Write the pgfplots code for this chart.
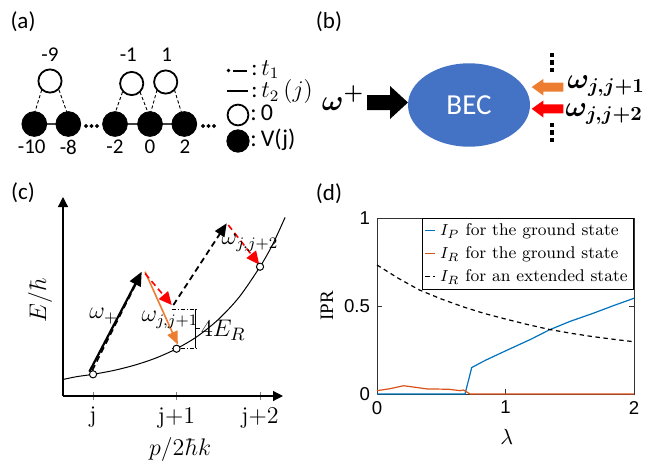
\documentclass[border=0pt]{standalone}
\usepackage{bm}
\usepackage{fontspec}
\usepackage{pgfplots}
\usepackage{pgfplotstable}
\pgfplotsset{compat=1.18}
\usetikzlibrary{arrows.meta}
\newfontfamily\calibri{Carlito}
\newfontfamily\arialf{Liberation Sans}
\newfontfamily\tnr{Liberation Serif}
\definecolor{becblue}{HTML}{4472C4}
\definecolor{offorange}{HTML}{ED7D31}
\definecolor{mblue}{HTML}{0072BD}
\definecolor{morange}{HTML}{D95319}

\pgfplotstableread{
lam v
0 0
0.685 0
0.737 0.15
0.8 0.175
0.848 0.193
1.0 0.245
1.2 0.312
1.34 0.364
1.5 0.412
1.68 0.458
1.84 0.502
2.0 0.544
}\ipdata
\pgfplotstableread{
lam v
0 0.019
0.1 0.03
0.207 0.047
0.3 0.038
0.388 0.029
0.556 0.027
0.647 0.019
0.673 0.023
0.724 0
2.0 0
}\irdata
\pgfplotstableread{
lam v
0 0.733
0.167 0.657
0.33 0.591
0.5 0.540
0.667 0.496
0.833 0.458
1.0 0.426
1.17 0.395
1.34 0.367
1.51 0.345
1.68 0.326
1.84 0.311
2.0 0.297
}\extdata

\begin{document}
\begin{tikzpicture}
\path[use as bounding box] (0,0) rectangle (328.5pt,231pt);

%================ overlay axis in pixel coordinates: panels (a), (b), labels
\begin{axis}[at={(0pt,0pt)}, anchor=south west, scale only axis,
  width=328.5pt, height=231pt, xmin=0, xmax=657, ymin=0, ymax=462,
  y dir=reverse, hide axis, clip=false]
% panel labels
\node[font=\calibri\fontsize{11.5}{13}\selectfont] at (23,22) {(a)};
\node[font=\calibri\fontsize{11.5}{13}\selectfont] at (329,22) {(b)};
\node[font=\calibri\fontsize{11.5}{13}\selectfont] at (23,193) {(c)};
\node[font=\calibri\fontsize{11.5}{13}\selectfont] at (329,194) {(d)};

% ---- panel (a)
\addplot[black!75, line width=0.6pt] coordinates {(34.3,124) (68.3,124)};
\addplot[black!75, line width=0.6pt] coordinates {(115,124) (184.3,124)};
\addplot[black, line width=0.45pt, dash pattern=on 1.6pt off 1.1pt] coordinates {(41.7,90) (35,111.7)};
\addplot[black, line width=0.45pt, dash pattern=on 1.6pt off 1.1pt] coordinates {(59,90) (66.7,111.7)};
\addplot[black, line width=0.45pt, dash pattern=on 1.6pt off 1.1pt] coordinates {(122.5,92) (115,113.3)};
\addplot[black, line width=0.45pt, dash pattern=on 1.6pt off 1.1pt] coordinates {(140,92) (148.3,113.3)};
\addplot[black, line width=0.45pt, dash pattern=on 1.6pt off 1.1pt] coordinates {(157,90) (150.5,113.3)};
\addplot[black, line width=0.45pt, dash pattern=on 1.6pt off 1.1pt] coordinates {(174.5,90) (181.7,113.3)};
\addplot[only marks, mark=*, mark size=6.2pt, mark options={fill=black, draw=black}]
  coordinates {(34.3,124) (68.3,124) (115,124) (150,124) (184.3,124)};
\addplot[only marks, mark=*, mark size=5.8pt, mark options={fill=white, draw=black, line width=0.9pt}]
  coordinates {(50,81) (131.7,83.5) (165.7,82)};
\addplot[only marks, mark=*, mark size=0.75pt, mark options={fill=black, draw=black}]
  coordinates {(86,126) (91.5,126) (97,126) (203,126) (208.5,126) (214,126)};
\node[font=\calibri\fontsize{10.5}{12}\selectfont] at (50,55) {-9};
\node[font=\calibri\fontsize{10.5}{12}\selectfont] at (128.3,55) {-1};
\node[font=\calibri\fontsize{10.5}{12}\selectfont] at (166.7,55) {1};
\node[font=\calibri\fontsize{10.5}{12}\selectfont] at (31.7,147) {-10};
\node[font=\calibri\fontsize{10.5}{12}\selectfont] at (68.3,147) {-8};
\node[font=\calibri\fontsize{10.5}{12}\selectfont] at (115,147) {-2};
\node[font=\calibri\fontsize{10.5}{12}\selectfont] at (150,147) {0};
\node[font=\calibri\fontsize{10.5}{12}\selectfont] at (185,147) {2};
% legend of (a)
\addplot[only marks, mark=*, mark size=0.7pt] coordinates {(228.5,70.5)};
\addplot[black, line width=1pt] coordinates {(233,70.5) (247,70.5)};
\addplot[black, line width=1pt] coordinates {(227,91) (248,91)};
\addplot[only marks, mark=*, mark size=5.2pt, mark options={fill=white, draw=black, line width=0.9pt}] coordinates {(238,115)};
\addplot[only marks, mark=*, mark size=5.6pt, mark options={fill=black, draw=black}] coordinates {(238,141)};
\node[anchor=base west, inner sep=0pt, font=\fontsize{11.5}{13}\selectfont] at (251,75) {{\calibri :}\,$t_1$};
\node[anchor=base west, inner sep=0pt, font=\fontsize{11.5}{13}\selectfont] at (251,97.5) {{\calibri :}\,$t_2\,(j)$};
\node[anchor=base west, inner sep=0pt, font=\calibri\fontsize{12}{14}\selectfont] at (250,120) {:\,0};
\node[anchor=base west, inner sep=0pt, font=\calibri\fontsize{12}{14}\selectfont] at (250,146) {:\,V(j)};

% ---- panel (b)
\fill[black] (367,95) -- (390,95) -- (390,86) -- (408,102.5) -- (390,119) -- (390,110) -- (367,110) -- cycle;
\fill[becblue] (469,105) ellipse [x radius=30.5pt, y radius=20.85pt];
\node[white, font=\calibri\fontsize{14.5}{16}\selectfont] at (469,105) {BEC};
\node[anchor=base, font=\fontsize{15}{17}\selectfont] at (343,110) {$\bm{\omega^{+}}$};
\fill[offorange] (531.7,87) -- (543.3,79) -- (543.3,82.7) -- (563.3,82.7) -- (563.3,91.7) -- (543.3,91.7) -- (543.3,95.5) -- cycle;
\fill[red] (531.7,108.8) -- (543.3,100.5) -- (543.3,104.3) -- (563.3,104.3) -- (563.3,113.3) -- (543.3,113.3) -- (543.3,117.5) -- cycle;
\addplot[only marks, mark=square*, mark size=0.9pt] coordinates {(551.7,55) (551.7,62.5) (551.7,70) (551.7,125) (551.7,132.5) (551.7,140)};
\node[anchor=base west, inner sep=0pt, font=\fontsize{14}{16}\selectfont] at (567,88.5) {$\bm{\omega_{j,j+1}}$};
\node[anchor=base west, inner sep=0pt, font=\fontsize{14}{16}\selectfont] at (565,116.5) {$\bm{\omega_{j,j+2}}$};
\end{axis}

%================ panel (c)
\begin{axis}[at={(31.5pt,33pt)}, anchor=south west, scale only axis,
  width=110pt, height=99.5pt, xmin=-0.36, xmax=2.275, ymin=0, ymax=199,
  axis lines=left, clip=false,
  axis line style={black, line width=0.6pt, -{Triangle[length=5pt,width=5pt]}},
  xtick={0,1,2}, xticklabels={j,j+1,j+2}, ytick=\empty,
  xtick align=center, major tick length=4pt,
  tick style={black!50, line width=0.4pt},
  xticklabel style={font=\fontsize{12}{13}\selectfont}]
\addplot[black, line width=0.5pt, smooth] coordinates {(-0.36,16.5) (-0.2,19.3) (0,21.7) (0.25,25.6) (0.5,30.9) (0.75,37.9) (1,47.3) (1.25,59.7) (1.5,76.5) (1.75,98.9) (2,129.3) (2.15,151.4) (2.3,178.6)};
\addplot[black, line width=0.8pt, dash pattern=on 3pt off 2pt] coordinates {(-0.01,25.5) (0.548,117.7)};
\addplot[black, line width=1.1pt, -{Triangle[length=7pt,width=6pt]}] coordinates {(-0.044,24.3) (0.583,124.3)};
\addplot[offorange, line width=0.8pt, -{Triangle[length=6.5pt,width=5.5pt]}] coordinates {(0.623,124.3) (1.015,51.5)};
\addplot[red, line width=0.8pt, dash pattern=on 3pt off 2pt, -{Triangle[length=6.5pt,width=6pt]}] coordinates {(0.623,122.5) (0.943,91)};
\addplot[black, line width=0.9pt, dash pattern=on 3pt off 2pt, -{Triangle[length=6.5pt,width=5.5pt]}] coordinates {(0.962,91) (1.601,172.7)};
\addplot[red, line width=0.8pt, dash pattern=on 3pt off 2pt, -{Triangle[length=6.5pt,width=6pt]}] coordinates {(1.62,171) (1.99,131.5)};
\addplot[only marks, mark=*, mark size=1.8pt, mark options={fill=white, draw=black, line width=0.5pt}] coordinates {(0,21.7) (1,47.3) (2,129.3)};
\addplot[black, line width=0.5pt, dash pattern=on 2pt off 1pt on 0.5pt off 1pt] coordinates {(0.94,87) (1.23,87)};
\addplot[black, line width=0.5pt, dash pattern=on 2pt off 1pt on 0.5pt off 1pt] coordinates {(0.94,47.7) (1.23,47.7)};
\addplot[black, line width=0.5pt] coordinates {(1.23,87) (1.23,47.7)};
\addplot[black, line width=0.5pt] coordinates {(1.23,67.5) (1.28,67.5)};
\node[anchor=west, inner sep=0pt, font=\fontsize{12.5}{14}\selectfont] at (axis cs:1.29,66) {$4E_R$};
\node[font=\fontsize{12}{14}\selectfont] at (axis cs:0.13,80) {$\omega_+$};
\node[font=\fontsize{12}{14}\selectfont] at (axis cs:0.922,76) {$\omega_{j,j+1}$};
\node[font=\fontsize{12}{14}\selectfont] at (axis cs:1.88,153) {$\omega_{j,j+2}$};
% axis labels of (c)
\node[rotate=90, font=\fontsize{12.5}{14}\selectfont] at (axis cs:-0.635,96) {$E/\hbar$};
\node[font=\fontsize{12.5}{14}\selectfont] at (axis cs:1.042,-53) {$p/2\hbar k$};
\end{axis}

%================ panel (d)
\begin{axis}[at={(188.5pt,34pt)}, anchor=south west, scale only axis,
  width=128.5pt, height=88pt, xmin=0, xmax=2, ymin=0, ymax=1,
  xtick={0,1,2}, ytick={0,0.5,1}, tick align=inside, major tick length=2.5pt,
  axis line style={black!80, line width=0.4pt}, tick style={black!80, line width=0.4pt},
  ticklabel style={font=\arialf\fontsize{9.3}{10}\selectfont},
  /pgf/number format/assume math mode=true, clip=false,
  legend style={at={(rel axis cs:1,1)}, anchor=north east, draw=black, line width=0.4pt, fill=white,
    font=\fontsize{8.5}{9.5}\selectfont, inner xsep=1pt, inner ysep=0.5pt, row sep=0pt, cells={anchor=west}},
  legend image code/.code={\draw[#1] (0pt,0pt) -- (5pt,0pt);}]
\addplot[mblue, line width=0.6pt] table[x=lam, y=v] {\ipdata};
\addlegendentry{$I_P$ for the ground state}
\addplot[morange, line width=0.6pt] table[x=lam, y=v] {\irdata};
\addlegendentry{$I_R$ for the ground state}
\addplot[black, line width=0.6pt, dash pattern=on 2.2pt off 1.8pt] table[x=lam, y=v] {\extdata};
\addlegendentry{$I_R$ for an extended state}
\node[rotate=90, font=\tnr\fontsize{9.5}{10}\selectfont] at (axis cs:-0.389,0.5) {IPR};
\node[font=\fontsize{10.5}{11}\selectfont] at (axis cs:1.009,-0.243) {$\lambda$};
\end{axis}
\end{tikzpicture}
\end{document}
